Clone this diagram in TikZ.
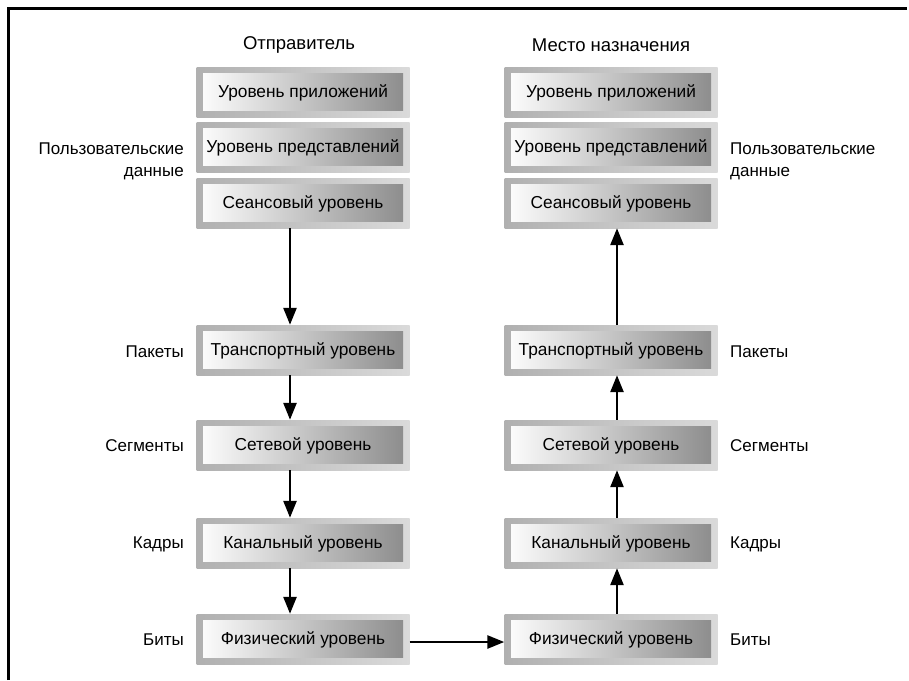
\documentclass[tikz,border=0pt]{standalone}
\usepackage{fontspec}
\setmainfont{Liberation Sans}
\usetikzlibrary{arrows.meta}
\definecolor{rimL}{HTML}{B0B0B0}
\definecolor{rimR}{HTML}{DADADA}
\definecolor{faceR}{HTML}{8A8A8A}
\begin{document}
\begin{tikzpicture}[x=1pt,y=-1pt,
  layer/.style={minimum width=213pt, minimum height=50pt, inner sep=0pt,
    left color=rimL, right color=rimR,
    path picture={\shade[left color=white, right color=faceR]
      ([shift={(6.5pt,-6.5pt)}]path picture bounding box.north west) rectangle
      ([shift={(-6.5pt,6.5pt)}]path picture bounding box.south east);},
    font=\fontsize{17.3}{20}\selectfont, text depth=1pt},
  side/.style={font=\fontsize{17}{22}\selectfont, inner sep=0pt},
  head/.style={font=\fontsize{18.5}{22}\selectfont, inner sep=0pt},
  flow/.style={line width=2.6pt, -{Triangle[length=17pt,width=13pt]}}]
\useasboundingbox (0,0) rectangle (909,680);
% frame along the top and left edges
\draw[line width=3pt] (8.5,680) -- (8.5,8.5) -- (907,8.5);

% column headings
\node[head] (hsend) at (299,45) {Отправитель};
\node[head] (hdest) at (611,45) {Место назначения};

% sender stack
\node[layer] (lapp)  at (303,92)  {Уровень приложений};
\node[layer] (lpres) at (303,147) {Уровень представлений};
\node[layer] (lsess) at (303,203) {Сеансовый уровень};
\node[layer] (ltran) at (303,350) {Транспортный уровень};
\node[layer] (lnet)  at (303,445) {Сетевой уровень};
\node[layer] (lchan) at (303,543) {Канальный уровень};
\node[layer] (lphys) at (303,639) {Физический уровень};

% destination stack
\node[layer] (rapp)  at (611,92)  {Уровень приложений};
\node[layer] (rpres) at (611,147) {Уровень представлений};
\node[layer] (rsess) at (611,203) {Сеансовый уровень};
\node[layer] (rtran) at (611,350) {Транспортный уровень};
\node[layer] (rnet)  at (611,445) {Сетевой уровень};
\node[layer] (rchan) at (611,543) {Канальный уровень};
\node[layer] (rphys) at (611,639) {Физический уровень};

% data unit labels
\node[side, align=right, anchor=east] (ludata) at (184,161) {Пользовательские\\данные};
\node[side, anchor=east] (lpk)  at (184,352) {Пакеты};
\node[side, anchor=east] (lsg)  at (184,446) {Сегменты};
\node[side, anchor=east] (lkd)  at (184,544) {Кадры};
\node[side, anchor=east] (lbt)  at (184,640) {Биты};

\node[side, align=left, anchor=west] (rudata) at (730,161) {Пользовательские\\данные};
\node[side, anchor=west] (rpk)  at (730,352) {Пакеты};
\node[side, anchor=west] (rsg)  at (730,446) {Сегменты};
\node[side, anchor=west] (rkd)  at (730,544) {Кадры};
\node[side, anchor=west] (rbt)  at (730,640) {Биты};

% downward flow on the sender side
\draw[flow] ([xshift=-13pt]lsess.south) -- ([xshift=-13pt]ltran.north);
\draw[flow] ([xshift=-13pt]ltran.south) -- ([xshift=-13pt]lnet.north);
\draw[flow] ([xshift=-13pt]lnet.south)  -- ([xshift=-13pt]lchan.north);
\draw[flow] ([xshift=-13pt]lchan.south) -- ([xshift=-13pt]lphys.north);

% transmission across the medium
\draw[flow] ([yshift=-3pt]lphys.east) -- ([yshift=-3pt]rphys.west);

% upward flow on the destination side
\draw[flow] ([xshift=6pt]rphys.north) -- ([xshift=6pt]rchan.south);
\draw[flow] ([xshift=6pt]rchan.north) -- ([xshift=6pt]rnet.south);
\draw[flow] ([xshift=6pt]rnet.north)  -- ([xshift=6pt]rtran.south);
\draw[flow] ([xshift=6pt]rtran.north) -- ([xshift=6pt]rsess.south);
\end{tikzpicture}
\end{document}
